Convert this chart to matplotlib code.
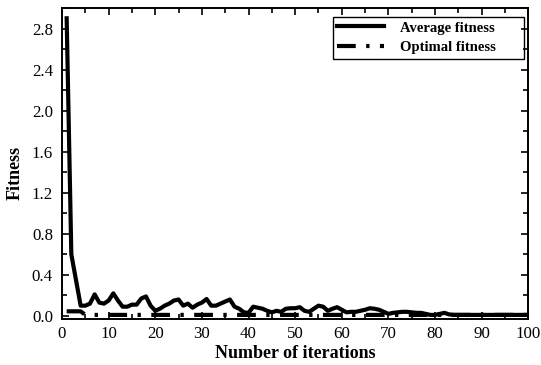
import matplotlib
matplotlib.use("Agg")
import matplotlib.pyplot as plt
from matplotlib.ticker import MultipleLocator, FormatStrFormatter
from matplotlib.patches import Rectangle

iterations = list(range(1, 101))
average_fitness = [
    2.9, 0.6, 0.35, 0.1, 0.1, 0.12, 0.21, 0.13, 0.12, 0.15,
    0.22, 0.15, 0.09, 0.09, 0.11, 0.11, 0.17, 0.19, 0.1, 0.05,
    0.07, 0.1, 0.12, 0.15, 0.16, 0.1, 0.12, 0.08, 0.11, 0.13,
    0.165, 0.1, 0.1, 0.12, 0.14, 0.16, 0.09, 0.07, 0.035, 0.03,
    0.09, 0.08, 0.07, 0.05, 0.035, 0.05, 0.04, 0.07, 0.075, 0.075,
    0.085, 0.05, 0.04, 0.07, 0.1, 0.09, 0.05, 0.07, 0.085, 0.06,
    0.035, 0.04, 0.04, 0.05, 0.06, 0.075, 0.07, 0.06, 0.04, 0.02,
    0.03, 0.035, 0.04, 0.04, 0.035, 0.03, 0.03, 0.02, 0.01, 0.01,
    0.02, 0.03, 0.015, 0.01, 0.01, 0.01, 0.01, 0.01, 0.01, 0.01,
    0.01, 0.01, 0.01, 0.01, 0.01, 0.01, 0.01, 0.01, 0.01, 0.01,
]
optimal_fitness = [
    0.045, 0.045, 0.045, 0.045, 0.01, 0.01, 0.01, 0.01, 0.01, 0.01,
    0.01, 0.01, 0.01, 0.01, 0.01, 0.01, 0.01, 0.01, 0.01, 0.01,
    0.01, 0.01, 0.01, 0.01, 0.01, 0.01, 0.01, 0.01, 0.01, 0.01,
    0.01, 0.01, 0.01, 0.01, 0.01, 0.01, 0.01, 0.01, 0.01, 0.01,
    0.01, 0.01, 0.01, 0.01, 0.01, 0.01, 0.01, 0.01, 0.01, 0.01,
    0.01, 0.01, 0.01, 0.01, 0.01, 0.01, 0.01, 0.01, 0.01, 0.01,
    0.01, 0.01, 0.01, 0.01, 0.01, 0.01, 0.01, 0.01, 0.01, 0.01,
    0.01, 0.01, 0.01, 0.01, 0.01, 0.01, 0.01, 0.01, 0.01, 0.01,
    0.01, 0.01, 0.01, 0.01, 0.01, 0.01, 0.01, 0.01, 0.01, 0.01,
    0.01, 0.01, 0.01, 0.01, 0.01, 0.01, 0.01, 0.01, 0.01, 0.01,
]

plt.rcParams['font.family'] = ['Liberation Serif', 'DejaVu Serif']

fig = plt.figure(figsize=(5.41, 3.65), dpi=100)
ax = fig.add_axes([0.1146, 0.126, 0.862, 0.852])

ax.plot(iterations, average_fitness, color='black', lw=3.0, label='Average fitness',
        solid_joinstyle='round')
ax.plot(iterations, optimal_fitness, color='black', lw=3.0, label='Optimal fitness',
        linestyle=(0, (4.5, 2.5, 0.8, 2.5)))

ax.set_xlim(0, 100)
ax.set_ylim(-0.03, 3.0)
ax.xaxis.set_major_locator(MultipleLocator(10))
ax.xaxis.set_minor_locator(MultipleLocator(5))
ax.yaxis.set_major_locator(MultipleLocator(0.4))
ax.yaxis.set_minor_locator(MultipleLocator(0.2))
ax.yaxis.set_major_formatter(FormatStrFormatter('%.1f'))
ax.tick_params(which='both', direction='in', top=True, right=True, width=1.2)
ax.tick_params(which='major', length=5, labelsize=12.2)
ax.tick_params(axis='x', which='major', pad=5)
ax.tick_params(axis='y', which='major', pad=6.5)
ax.tick_params(which='minor', length=3.5)
for s in ax.spines.values():
    s.set_linewidth(1.4)

ax.set_xlabel('Number of iterations', fontsize=13, fontweight='bold')
ax.set_ylabel('Fitness', fontsize=13, fontweight='bold')
ax.xaxis.set_label_coords(0.5, -0.082)
ax.yaxis.set_label_coords(-0.082, 0.47)

leg = ax.legend(loc='upper left', bbox_to_anchor=(333 / 541, 1 - 17 / 365),
                bbox_transform=fig.transFigure,
                prop={'weight': 'bold', 'size': 10.5},
                frameon=False, handlelength=3.2, handletextpad=1.1,
                borderaxespad=0.0, borderpad=0.3, labelspacing=0.45)

fig.canvas.draw()
bb = leg.get_window_extent()
inv = fig.transFigure.inverted()
(x0, y0), (x1, y1) = inv.transform([(bb.x0, bb.y0), (bb.x1, bb.y1)])
fig.patches.append(Rectangle((x0, y0), (524 / 541) - x0, y1 - y0,
                             transform=fig.transFigure, fill=False,
                             edgecolor='black', linewidth=1.0, zorder=10))

fig.savefig('out.png', dpi=100)
